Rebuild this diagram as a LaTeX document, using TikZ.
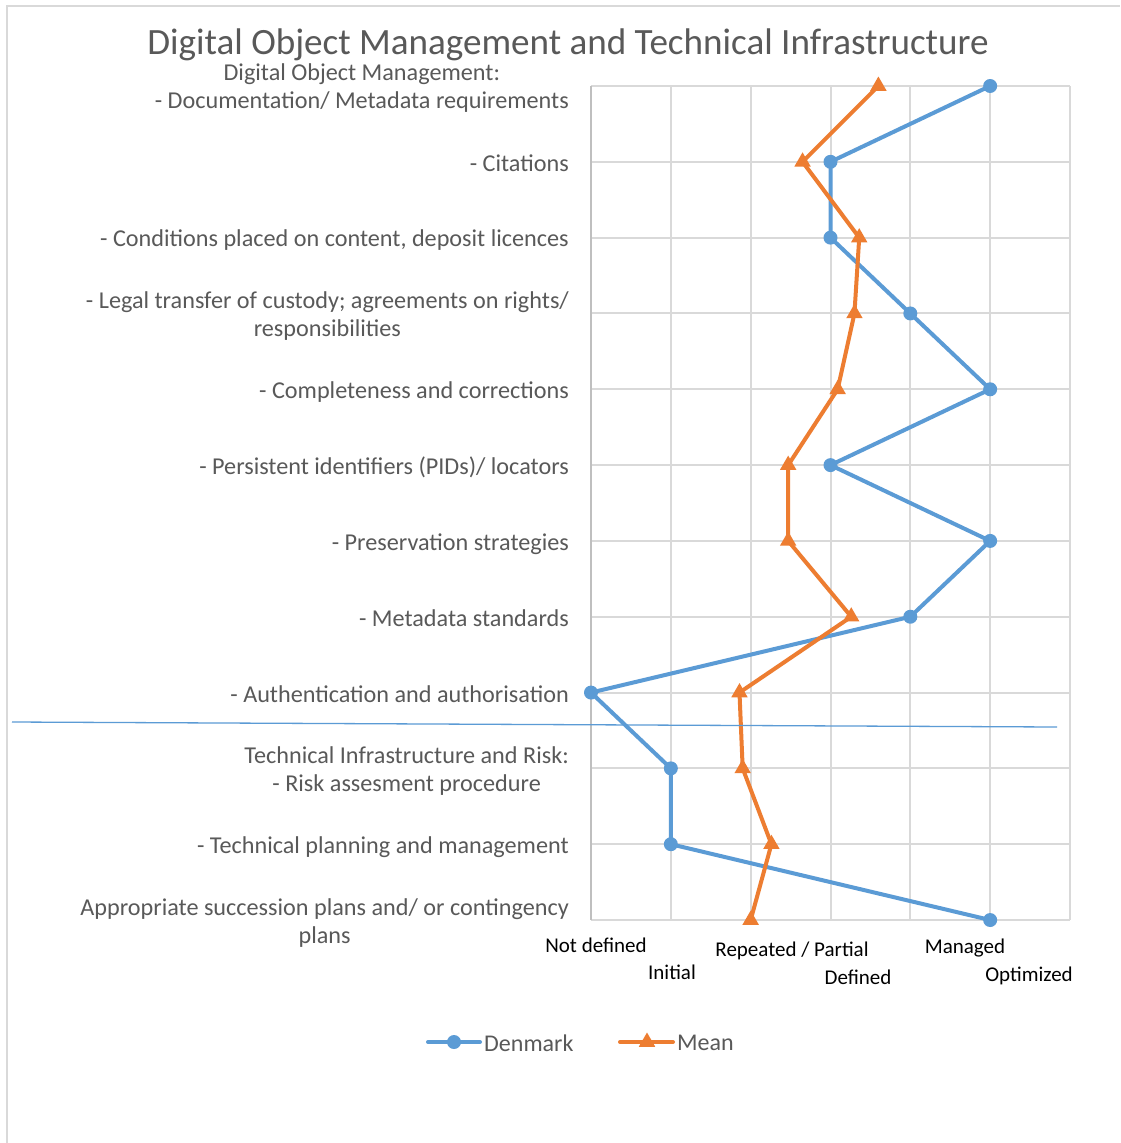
\documentclass[tikz,border=0pt]{standalone}
\usepackage{fontspec}
\setmainfont{Carlito}
\usetikzlibrary{shapes.geometric}
\definecolor{dkblue}{HTML}{5B9BD5}
\definecolor{meanorange}{HTML}{ED7D31}
\definecolor{labelgray}{HTML}{595959}
\definecolor{gridgray}{HTML}{D9D9D9}
\definecolor{axisgray}{HTML}{BFBFBF}

\begin{document}
\begin{tikzpicture}[x=1pt,y=-1pt,
    catlabel/.style={anchor=east,inner sep=0pt,align=center,text=labelgray,font=\fontsize{24.2}{28}\selectfont},
    levellabel/.style={anchor=base,inner sep=0pt,font=\fontsize{21}{25}\selectfont},
    legendtext/.style={anchor=west,inner sep=0pt,text=labelgray,font=\fontsize{24}{28}\selectfont},
    gridline/.style={gridgray,line width=2pt},
    dkline/.style={dkblue,line width=4pt,line cap=round,line join=round},
    meanline/.style={meanorange,line width=4pt,line cap=round,line join=round},
    dkmark/.style={circle,fill=dkblue,inner sep=0pt,minimum size=14pt},
    meanmark/.style={regular polygon,regular polygon sides=3,fill=meanorange,inner sep=0pt,minimum size=19pt}]
  \useasboundingbox (0,0) rectangle (1120,1143);
  \fill[white] (0,0) rectangle (1120,1143);
  \draw[gridgray,line width=2.5pt] (7,1143) -- (7,6) -- (1120,6);

  \node[anchor=base,inner sep=0pt,text=labelgray,font=\fontsize{37.1}{40}\selectfont] (title) at (568,54)
    {Digital Object Management and Technical Infrastructure};

  % category labels
  \node[catlabel] (c1) at (569,88) {Digital Object Management:\\- Documentation/ Metadata requirements};
  \node[catlabel] (c2) at (569,163) {- Citations};
  \node[catlabel] (c3) at (569,240) {- Conditions placed on content, deposit licences};
  \node[catlabel] (c4) at (569,316) {- Legal transfer of custody; agreements on rights/\\responsibilities};
  \node[catlabel] (c5) at (569,392) {- Completeness and corrections};
  \node[catlabel] (c6) at (569,467) {- Persistent identifiers (PIDs)/ locators};
  \node[catlabel] (c7) at (569,544) {- Preservation strategies};
  \node[catlabel] (c8) at (569,618) {- Metadata standards};
  \node[catlabel] (c9) at (569,694) {- Authentication and authorisation};
  \node[catlabel] (c10) at (569,771) {Technical Infrastructure and Risk:\\- Risk assesment procedure};
  \node[catlabel] (c11) at (569,847) {- Technical planning and management};
  \node[catlabel] (c12) at (569,923) {Appropriate succession plans and/ or contingency\\plans};

  % level labels
  \node[levellabel] (l0) at (596,952) {Not defined};
  \node[levellabel] (l1) at (672,979) {Initial};
  \node[levellabel] (l2) at (792,956) {Repeated / Partial};
  \node[levellabel] (l3) at (858,984) {Defined};
  \node[levellabel] (l4) at (965,953) {Managed};
  \node[levellabel] (l5) at (1029,981) {Optimized};

  \begin{scope}[shift={(591,86)},x=79.83pt,y=-75.82pt]
    \foreach \i in {1,...,6} \draw[gridline] (\i,0) -- (\i,11);
    \foreach \j in {0,...,11} \draw[gridline] (0,\j) -- (6,\j);
    \draw[axisgray,line width=2pt] (0,0) -- (0,11);

    % Denmark
    \node[dkmark] (dk1) at (5,0) {};
    \node[dkmark] (dk2) at (3,1) {};
    \node[dkmark] (dk3) at (3,2) {};
    \node[dkmark] (dk4) at (4,3) {};
    \node[dkmark] (dk5) at (5,4) {};
    \node[dkmark] (dk6) at (3,5) {};
    \node[dkmark] (dk7) at (5,6) {};
    \node[dkmark] (dk8) at (4,7) {};
    \node[dkmark] (dk9) at (0,8) {};
    \node[dkmark] (dk10) at (1,9) {};
    \node[dkmark] (dk11) at (1,10) {};
    \node[dkmark] (dk12) at (5,11) {};
    \draw[dkline] (dk1.center) -- (dk2.center) -- (dk3.center) -- (dk4.center) -- (dk5.center) -- (dk6.center)
      -- (dk7.center) -- (dk8.center) -- (dk9.center) -- (dk10.center) -- (dk11.center) -- (dk12.center);

    % Mean
    \node[meanmark] (mn1) at (3.60,0) {};
    \node[meanmark] (mn2) at (2.65,1) {};
    \node[meanmark] (mn3) at (3.36,2) {};
    \node[meanmark] (mn4) at (3.30,3) {};
    \node[meanmark] (mn5) at (3.09,4) {};
    \node[meanmark] (mn6) at (2.47,5) {};
    \node[meanmark] (mn7) at (2.47,6) {};
    \node[meanmark] (mn8) at (3.26,7) {};
    \node[meanmark] (mn9) at (1.86,8) {};
    \node[meanmark] (mn10) at (1.90,9) {};
    \node[meanmark] (mn11) at (2.26,10) {};
    \node[meanmark] (mn12) at (2.00,11) {};
    \draw[meanline] (mn1.center) -- (mn2.center) -- (mn3.center) -- (mn4.center) -- (mn5.center) -- (mn6.center)
      -- (mn7.center) -- (mn8.center) -- (mn9.center) -- (mn10.center) -- (mn11.center) -- (mn12.center);
  \end{scope}

  % divider between the two groups
  \coordinate (divl) at (12,722);
  \coordinate (divr) at (1057,727);
  \draw[dkblue,line width=1.3pt] (divl) -- (divr);

  % legend
  \coordinate (dkl) at (428,1042);
  \coordinate (dkr) at (480,1042);
  \draw[dkline] (dkl) -- (dkr);
  \node[dkmark] (dkkey) at (454,1042) {};
  \node[legendtext] (dktext) at (484,1043) {Denmark};
  \coordinate (mnl) at (620,1042);
  \coordinate (mnr) at (673,1042);
  \draw[meanline] (mnl) -- (mnr);
  \node[meanmark] (mnkey) at (647,1042) {};
  \node[legendtext] (mntext) at (677,1043) {Mean};
\end{tikzpicture}
\end{document}
